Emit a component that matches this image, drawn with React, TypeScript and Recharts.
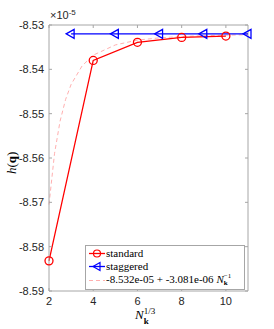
import React from "react";
import {
  LineChart,
  Line,
  XAxis,
  YAxis,
  ReferenceLine
} from "recharts";

// values in units of 1e-5
const STANDARD_X = [2, 4, 6, 8, 10];
const STANDARD_Y = [-8.5832, -8.538, -8.5339, -8.5328, -8.5325];
const STAGGERED_X = [3, 5, 7, 9, 11];
const STAGGERED_Y = [-8.532, -8.532, -8.532, -8.532, -8.532];
const FIT_X = [2, 2.25, 2.5, 2.75, 3, 3.5, 4, 5, 6, 7, 8, 9, 10, 11];
const FIT_Y = [
  -8.5705, -8.559, -8.5517, -8.5468, -8.5434, -8.5392, -8.5368, -8.5345,
  -8.5334, -8.5329, -8.5326, -8.5324, -8.5323, -8.5322
];
const X_TICKS = [2, 4, 6, 8, 10];
const Y_TICKS = [-8.59, -8.58, -8.57, -8.56, -8.55, -8.54, -8.53];

const standard = STANDARD_X.map((x, i) => ({ x, y: STANDARD_Y[i] }));
const staggered = STAGGERED_X.map((x, i) => ({ x, y: STAGGERED_Y[i] }));
const fit = FIT_X.map((x, i) => ({ x, y: FIT_Y[i] }));

const FRAME = "#a6a6a6";
const TXT = "#262626";
const SANS = "'Liberation Sans', Arial, sans-serif";
const SERIF = "'Liberation Serif', 'Times New Roman', serif";

const YTick = (props: any) => {
  const { x, y, payload } = props;
  return (
    <g>
      <line x1={49} x2={52} y1={y} y2={y} stroke={FRAME} />
      <line x1={245} x2={248} y1={y} y2={y} stroke={FRAME} />
      <text x={x} y={y} dy={4} textAnchor="end" fontSize={11} fill={TXT} fontFamily={SANS}>
        {payload.value.toFixed(2)}
      </text>
    </g>
  );
};

const XTick = (props: any) => {
  const { x, y, payload } = props;
  return (
    <g>
      <line x1={x} x2={x} y1={291} y2={288} stroke={FRAME} />
      <line x1={x} x2={x} y1={25} y2={28} stroke={FRAME} />
      <text x={x} y={y} dy={10} textAnchor="middle" fontSize={11} fill={TXT} fontFamily={SANS}>
        {payload.value}
      </text>
    </g>
  );
};

const Circle = (props: any) => {
  const { cx, cy } = props;
  return <circle cx={cx} cy={cy} r={4} fill="none" stroke="#ff0000" strokeWidth={1.3} />;
};

const Tri = (props: any) => {
  const { cx, cy } = props;
  return (
    <polygon
      points={`${cx - 5},${cy} ${cx + 3},${cy - 4.5} ${cx + 3},${cy + 4.5}`}
      fill="none"
      stroke="#0000ff"
      strokeWidth={1.3}
    />
  );
};

const LegendBox = () => (
  <div
    style={{
      position: "absolute",
      left: 85,
      top: 245,
      border: `1px solid ${FRAME}`,
      background: "#fff",
      width: 156,
      padding: "1px 0 2px 2px",
      fontFamily: SERIF,
      fontSize: 11,
      color: "#000",
      lineHeight: "13px"
    }}
  >
    <div style={{ display: "flex", alignItems: "center" }}>
      <svg width={18} height={13}>
        <line x1={1} x2={17} y1={6.5} y2={6.5} stroke="#ff0000" strokeWidth={1.3} />
        <circle cx={9} cy={6.5} r={3.5} fill="none" stroke="#ff0000" strokeWidth={1.2} />
      </svg>
      <span>standard</span>
    </div>
    <div style={{ display: "flex", alignItems: "center" }}>
      <svg width={18} height={13}>
        <line x1={1} x2={17} y1={6.5} y2={6.5} stroke="#0000ff" strokeWidth={1.3} />
        <polygon points="5,6.5 12,2.5 12,10.5" fill="none" stroke="#0000ff" strokeWidth={1.2} />
      </svg>
      <span>staggered</span>
    </div>
    <div style={{ display: "flex", alignItems: "center" }}>
      <svg width={18} height={13}>
        <line x1={1} x2={17} y1={6.5} y2={6.5} stroke="#ff9a9a" strokeWidth={0.8} strokeDasharray="4 3" />
      </svg>
      <span style={{ whiteSpace: "nowrap" }}>
        -8.532e-05 + -3.081e-06 <i>N</i>
        <span style={{ display: "inline-flex", flexDirection: "column", verticalAlign: "middle", lineHeight: "7px", fontSize: 7 }}>
          <span>−1</span>
          <b>k</b>
        </span>
      </span>
    </div>
  </div>
);

export default function App() {
  return (
    <div style={{ position: "absolute", left: 0, top: 0, width: 274, height: 329, background: "#fff" }}>
      <LineChart
        width={274}
        height={329}
        margin={{ top: 25, right: 26, left: 0, bottom: 0 }}
      >
        <XAxis
          type="number"
          dataKey="x"
          domain={[2, 11]}
          ticks={X_TICKS}
          interval={0}
          tickSize={0}
          tickMargin={4}
          height={38}
          stroke={FRAME}
          tick={<XTick />}
          allowDuplicatedCategory={false}
        />
        <YAxis
          type="number"
          dataKey="y"
          domain={[-8.59, -8.53]}
          ticks={Y_TICKS}
          interval={0}
          tickSize={0}
          tickMargin={5}
          width={49}
          stroke={FRAME}
          tick={<YTick />}
          allowDataOverflow
        />
        <ReferenceLine x={11} stroke={FRAME} />
        <ReferenceLine y={-8.53} stroke={FRAME} />
        <Line
          data={fit}
          dataKey="y"
          type="linear"
          stroke="#ff9a9a"
          strokeWidth={0.8}
          strokeDasharray="4 3"
          dot={false}
          isAnimationActive={false}
        />
        <Line
          data={staggered}
          dataKey="y"
          type="linear"
          stroke="#0000ff"
          strokeWidth={1.3}
          dot={<Tri />}
          isAnimationActive={false}
        />
        <Line
          data={standard}
          dataKey="y"
          type="linear"
          stroke="#ff0000"
          strokeWidth={1.3}
          dot={<Circle />}
          isAnimationActive={false}
        />
      </LineChart>
      <LegendBox />
      <div style={{ position: "absolute", left: 50, top: 8, fontFamily: SANS, fontSize: 11, color: TXT }}>
        ×10<sup style={{ fontSize: 8, verticalAlign: "4px" }}>-5</sup>
      </div>
      <div
        style={{
          position: "absolute",
          left: 4,
          top: 174,
          transform: "rotate(-90deg)",
          transformOrigin: "0 0",
          fontFamily: SERIF,
          fontSize: 13,
          color: "#000",
          whiteSpace: "nowrap"
        }}
      >
        <i>h</i>(<b>q</b>)
      </div>
      <div
        style={{
          position: "absolute",
          left: 135,
          top: 306,
          fontFamily: SERIF,
          fontSize: 13,
          color: "#000",
          whiteSpace: "nowrap"
        }}
      >
        <i>N</i>
        <span style={{ display: "inline-flex", flexDirection: "column", verticalAlign: "middle", lineHeight: "10px", fontSize: 9 }}>
          <span>1/3</span>
          <b>k</b>
        </span>
      </div>
    </div>
  );
}
